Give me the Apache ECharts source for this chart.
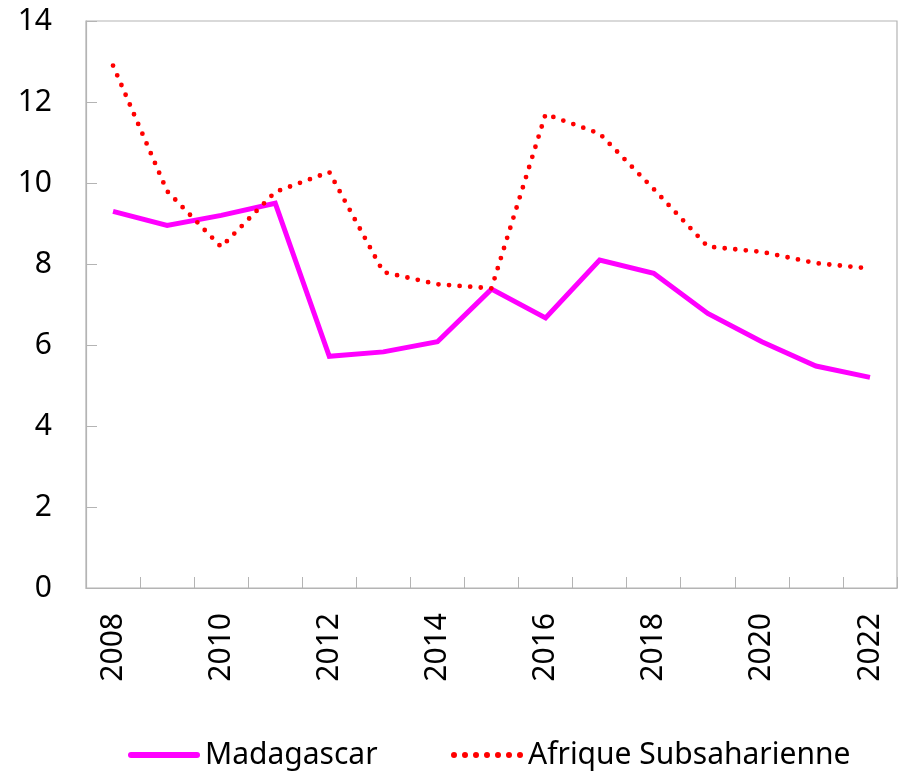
<!DOCTYPE html>
<html>
<head>
<meta charset="utf-8">
<script src="https://cdn.jsdelivr.net/npm/echarts@6/dist/echarts.min.js"></script>
<style>
  html, body { margin: 0; padding: 0; background: #fff; }
  #chart { width: 905px; height: 772px; }
</style>
</head>
<body>
<div id="chart"></div>
<script>
// Années et séries
var years = ['2008','2009','2010','2011','2012','2013','2014','2015','2016','2017','2018','2019','2020','2021','2022'];
var madagascar = [9.3, 8.95, 9.2, 9.5, 5.72, 5.83, 6.08, 7.38, 6.67, 8.1, 7.77, 6.78, 6.08, 5.48, 5.2];
var afriqueSubsaharienne = [12.9, 9.8, 8.42, 9.78, 10.27, 7.8, 7.5, 7.4, 11.7, 11.22, 9.85, 8.43, 8.3, 8.02, 7.89];
var yTicks = { min: 0, max: 14, interval: 2 };

var fontFamily = '"Noto Sans", "Open Sans", sans-serif';
var axisGray = '#B4B4B4';

// Legend icons: a solid rounded bar and a row of round dots
var solidIcon = 'path://M3,0 L69,0 A3,3 0 0 1 69,6 L3,6 A3,3 0 0 1 3,0 Z';
var dotIcon = 'path://' + [3, 14, 25, 36, 47, 58, 69].map(function (cx) {
  return 'M' + (cx - 3) + ',3 A3,3 0 1 0 ' + (cx + 3) + ',3 A3,3 0 1 0 ' + (cx - 3) + ',3 Z';
}).join(' ');

var legendText = { fontFamily: fontFamily, fontSize: 30, lineHeight: 30, color: '#000' };

var chart = echarts.init(document.getElementById('chart'));
chart.setOption({
  animation: false,
  grid: {
    left: 86, right: 8, top: 21, bottom: 184,
    show: true, borderColor: axisGray, borderWidth: 1.2
  },
  legend: [
    {
      top: 735, left: 123,
      itemWidth: 72, itemHeight: 6, itemGap: 0,
      textStyle: legendText,
      data: [{ name: 'Madagascar', icon: solidIcon }]
    },
    {
      top: 735, left: 446,
      itemWidth: 72, itemHeight: 6, itemGap: 0,
      textStyle: legendText,
      data: [{ name: 'Afrique Subsaharienne', icon: dotIcon }]
    }
  ],
  xAxis: {
    type: 'category',
    data: years,
    boundaryGap: true,
    axisLine: { lineStyle: { color: axisGray, width: 1.2 } },
    axisTick: { show: true, inside: true, length: 11, interval: 0, lineStyle: { color: axisGray } },
    axisLabel: {
      interval: 1, rotate: 90, margin: 25,
      fontFamily: fontFamily, fontSize: 30, color: '#000'
    },
    splitLine: { show: false }
  },
  yAxis: {
    type: 'value',
    min: yTicks.min, max: yTicks.max, interval: yTicks.interval,
    axisLine: { show: true, lineStyle: { color: axisGray, width: 1.2 } },
    axisTick: { show: true, inside: true, length: 11, lineStyle: { color: axisGray } },
    axisLabel: { margin: 34, fontFamily: fontFamily, fontSize: 30, color: '#000' },
    splitLine: { show: false }
  },
  series: [
    {
      name: 'Madagascar',
      type: 'line',
      data: madagascar,
      symbol: 'none',
      lineStyle: { color: '#FF00FF', width: 5, join: 'miter' },
      itemStyle: { color: '#FF00FF' }
    },
    {
      name: 'Afrique Subsaharienne',
      type: 'line',
      data: afriqueSubsaharienne,
      symbol: 'none',
      lineStyle: { color: '#FF0000', width: 4.8, type: [0, 10.6], cap: 'round' },
      itemStyle: { color: '#FF0000' }
    }
  ]
});
</script>
</body>
</html>
